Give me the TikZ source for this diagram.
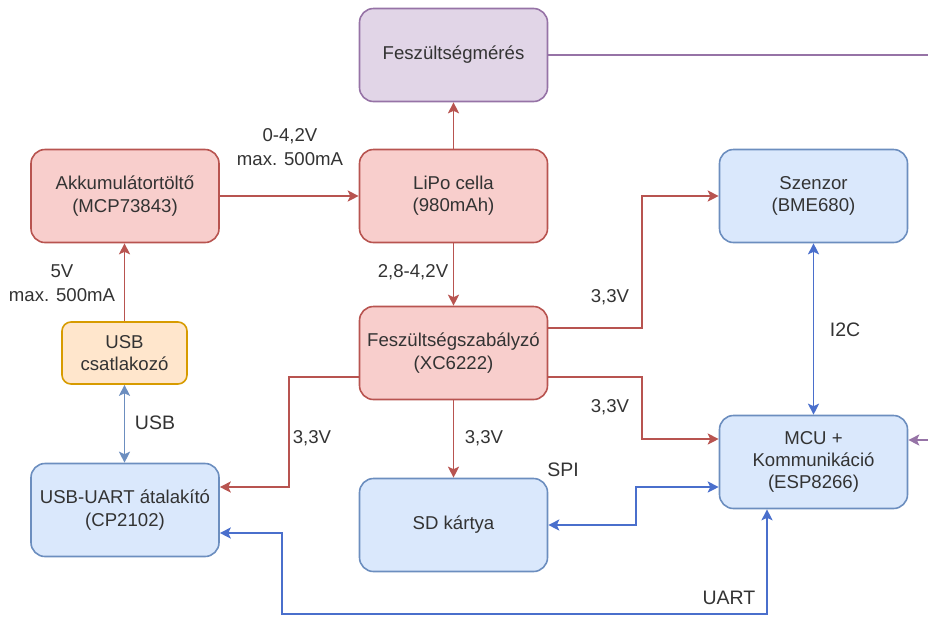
\documentclass[tikz,border=0pt]{standalone}
\usepackage{fontspec}
\setmainfont{Liberation Sans}
\usetikzlibrary{arrows.meta}
\definecolor{redfill}{HTML}{F8CECC}
\definecolor{redline}{HTML}{B85450}
\definecolor{bluefill}{HTML}{DAE8FC}
\definecolor{blueline}{HTML}{6C8EBF}
\definecolor{sigblue}{HTML}{4A6FCC}
\definecolor{purfill}{HTML}{E1D5E7}
\definecolor{purline}{HTML}{9673A6}
\definecolor{orfill}{HTML}{FFE6CC}
\definecolor{orline}{HTML}{D79B00}
\definecolor{txt}{HTML}{333333}
\tikzset{
  blk/.style={draw, rounded corners=14pt, line width=1.6pt, minimum width=188pt,
    minimum height=93pt, align=center, text=txt,
    font=\fontsize{18.6}{22.3}\selectfont},
  redblk/.style={blk, fill=redfill, draw=redline},
  blueblk/.style={blk, fill=bluefill, draw=blueline},
  purblk/.style={blk, fill=purfill, draw=purline},
  orblk/.style={blk, fill=orfill, draw=orline, minimum width=125pt,
    minimum height=62pt, rounded corners=9pt},
  wire/.style={line width=1.7pt},
  pwr/.style={wire, draw=redline, -{Stealth[length=11pt,width=11pt,inset=2.5pt]}},
  sig/.style={wire, draw=sigblue, {Stealth[length=11pt,width=11pt,inset=2.5pt]}-{Stealth[length=11pt,width=11pt,inset=2.5pt]}},
  lbl/.style={text=txt, align=center, font=\fontsize{18.6}{24}\selectfont},
  biglbl/.style={text=txt, font=\fontsize{19.5}{23}\selectfont},
}
\begin{document}
\begin{tikzpicture}[x=1pt, y=-1pt]
\useasboundingbox (0,0) rectangle (928,619);

% blocks
\node[purblk] (fesz) at (453.5,55) {Feszültségmérés};
\node[redblk] (akku) at (125,196) {Akkumulátortöltő\\(MCP73843)};
\node[redblk] (lipo) at (453.5,196) {LiPo cella\\(980mAh)};
\node[blueblk] (szenzor) at (813.5,196) {Szenzor\\(BME680)};
\node[orblk] (usbc) at (124.5,353) {USB\\csatlakozó};
\node[redblk] (reg) at (453.5,353) {Feszültségszabályzó\\(XC6222)};
\node[blueblk] (mcu) at (813.5,462) {MCU +\\Kommunikáció\\(ESP8266)};
\node[blueblk] (usbuart) at (125,510) {USB-UART átalakító\\(CP2102)};
\node[blueblk] (sd) at (453.5,525) {SD kártya};

% free ends at the right border
\coordinate (feszout) at (928,55);
\coordinate (mcuin) at (928,440);
\coordinate (uartbot) at (767,614);

% power path
\draw[pwr] (akku.east) -- (lipo.west);
\draw[pwr] (lipo.north) -- (fesz.south);
\draw[pwr] (usbc.north) -- (usbc.north |- akku.south);
\draw[pwr] (lipo.south) -- (reg.north);
\draw[pwr] (reg.south) -- (sd.north);
\draw[pwr] ([yshift=25pt]reg.east) -- ++(93.5,0) |- (szenzor.west);
\draw[pwr] ([yshift=-24pt]reg.east) -- ++(93.5,0) |- ([yshift=23pt]mcu.west);
\draw[pwr] ([yshift=-24pt]reg.west) -- ++(-70,0) |- ([yshift=23pt]usbuart.east);

% data links
\draw[wire, draw=blueline, {Stealth[length=11pt,width=11pt,inset=2.5pt]}-{Stealth[length=11pt,width=11pt,inset=2.5pt]}]
  (usbc.south) -- (usbc.south |- usbuart.north);
\draw[sig] (szenzor.south) -- (mcu.north);
\draw[sig] (sd.east) -- ++(88,0) |- ([yshift=-25pt]mcu.west);
\draw[sig] ([yshift=-23pt]usbuart.east) -- ++(62,0) |- (uartbot) -- (uartbot |- mcu.south);

% voltage measurement
\draw[wire, draw=purline] (fesz.east) -- (feszout);
\draw[wire, draw=purline, -{Stealth[length=11pt,width=11pt,inset=2.5pt]}] (mcuin) -- (mcuin -| mcu.east);

% labels
\node[lbl] (l1) at (290,147) {0-4,2V\\max. 500mA};
\node[lbl] (l2) at (62,283) {5V\\max. 500mA};
\node[lbl] (l3) at (413,272) {2,8-4,2V};
\node[lbl] (l4) at (610,297) {3,3V};
\node[lbl] (l5) at (610,407) {3,3V};
\node[lbl] (l6) at (312,438) {3,3V};
\node[lbl] (l7) at (484,438) {3,3V};
\node[biglbl] (l8) at (155,423) {USB};
\node[biglbl] (l9) at (845,330) {I2C};
\node[biglbl] (l10) at (563,470) {SPI};
\node[biglbl] (l11) at (729,598) {UART};
\end{tikzpicture}
\end{document}
